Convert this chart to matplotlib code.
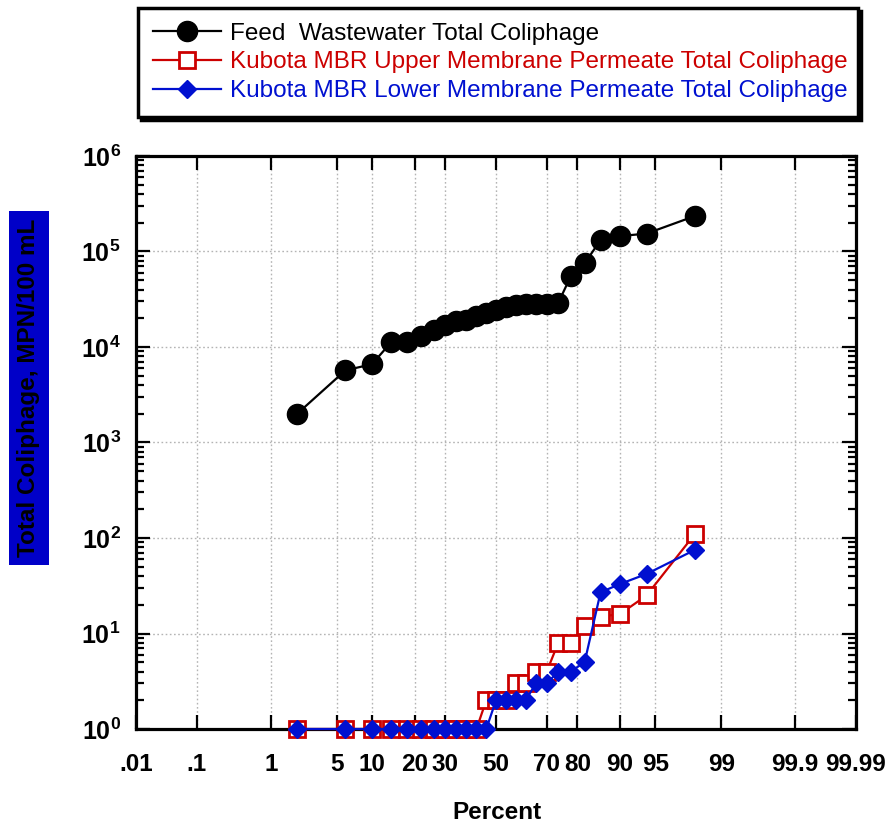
import numpy as np
import matplotlib
matplotlib.use('Agg')
import matplotlib.pyplot as plt
from matplotlib import ticker
from statistics import NormalDist

plt.rcParams['font.family'] = ['Liberation Sans', 'DejaVu Sans']
plt.rcParams['mathtext.fontset'] = 'custom'
plt.rcParams['mathtext.rm'] = 'Liberation Sans'
plt.rcParams['mathtext.bf'] = 'Liberation Sans:bold'

# plotting positions (percent) for the 25 samples
percent = [2, 6, 10, 14, 18, 22, 26, 30, 34, 38, 42, 46, 50,
           54, 58, 62, 66, 70, 74, 78, 82, 86, 90, 94, 98]

feed = [2000, 5700, 6600, 11300, 11300, 13000, 15000, 17000, 18500,
        19000, 21000, 22500, 24500, 26000, 27500, 28000, 28000, 28000,
        29000, 55000, 75000, 132000, 145000, 154000, 235000]
upper = [1, 1, 1, 1, 1, 1, 1, 1, 1, 1, 1, 2, 2,
         2, 3, 3, 4, 4, 8, 8, 12, 15, 16, 25, 110]
lower = [1, 1, 1, 1, 1, 1, 1, 1, 1, 1, 1, 1, 2,
         2, 2, 2, 3, 3, 4, 4, 5, 27, 33, 42, 75]

xticks = [0.01, 0.1, 1, 5, 10, 20, 30, 50, 70, 80, 90, 95, 99, 99.9, 99.99]
xticklabels = ['.01', '.1', '1', '5', '10', '20', '30', '50', '70', '80',
               '90', '95', '99', '99.9', '99.99']

nd = NormalDist()


def to_z(p):
    p = np.clip(np.asarray(p, dtype=float) / 100.0, 1e-12, 1 - 1e-12)
    return np.vectorize(nd.inv_cdf, otypes=[float])(p)


def from_z(z):
    return np.vectorize(nd.cdf, otypes=[float])(np.asarray(z, dtype=float)) * 100.0


fig = plt.figure(figsize=(8.92, 8.30), dpi=100)
ax = fig.add_axes([136 / 892, 101 / 830, 720 / 892, 573 / 830])

ax.set_xscale('function', functions=(to_z, from_z))
ax.set_yscale('log')

red = '#CC0000'
blue = '#0010D0'

ax.plot(percent, feed, color='black', lw=1.6, marker='o', ms=14.5,
        mfc='black', mec='black', clip_on=False, zorder=3,
        label='Feed  Wastewater Total Coliphage')
ax.plot(percent, upper, color=red, lw=1.6, marker='s', ms=11,
        mfc='white', mec=red, mew=2, clip_on=False, zorder=3,
        label='Kubota MBR Upper Membrane Permeate Total Coliphage')
ax.plot(percent, lower, color=blue, lw=1.6, marker='D', ms=9,
        mfc=blue, mec=blue, clip_on=False, zorder=4,
        label='Kubota MBR Lower Membrane Permeate Total Coliphage')

ax.set_xlim(0.01, 99.99)
ax.set_ylim(1, 1e6)

ax.xaxis.set_major_locator(ticker.FixedLocator(xticks))
ax.xaxis.set_major_formatter(ticker.FixedFormatter(xticklabels))
ax.xaxis.set_minor_locator(ticker.NullLocator())

ax.yaxis.set_major_locator(ticker.LogLocator(base=10, numticks=10))
ax.yaxis.set_minor_locator(ticker.LogLocator(base=10, subs=np.arange(2, 10), numticks=10))
ax.yaxis.set_minor_formatter(ticker.NullFormatter())
ax.yaxis.set_major_formatter(ticker.FuncFormatter(
    lambda v, pos: r'$\mathbf{10^{%d}}$' % int(round(np.log10(v)))))

ax.grid(True, which='major', color='#b4b4b4', linestyle=(0, (1.2, 1.8)), lw=1)

ax.tick_params(which='both', direction='in', top=True, right=True, width=1.6)
ax.tick_params(which='major', length=10)
ax.tick_params(which='minor', length=5.5)
ax.tick_params(axis='x', pad=17, labelsize=17.5)
ax.tick_params(axis='y', pad=11, labelsize=18)
for lab in ax.get_xticklabels():
    lab.set_fontweight('bold')
for s in ax.spines.values():
    s.set_linewidth(2.3)

fig.text(497 / 892, 18 / 830, 'Percent', ha='center', va='center',
         fontsize=17.5, fontweight='bold')
fig.text(29 / 892, 1 - 388 / 830, 'Total Coliphage, MPN/100 mL', rotation=90,
         ha='center', va='center', fontsize=17.5, fontweight='bold', color='black',
         bbox=dict(facecolor='#0000C8', edgecolor='none', pad=6))

leg = fig.legend(loc='upper left', bbox_to_anchor=(138 / 892, 1 - 8 / 830, 720 / 892, 0),
                 mode='expand', fontsize=17.5, frameon=True, fancybox=False,
                 edgecolor='black', handlelength=2.8, handletextpad=0.4,
                 labelspacing=0.28, borderpad=0.6, borderaxespad=0,
                 shadow={'facecolor': 'black', 'edgecolor': 'black', 'alpha': 1})
leg.get_frame().set_linewidth(2.5)
for txt, c in zip(leg.get_texts(), ['black', red, blue]):
    txt.set_color(c)

fig.savefig('out.png', dpi=100)
